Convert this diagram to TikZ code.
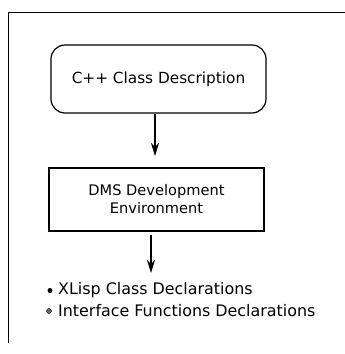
\documentclass[tikz,border=0pt]{standalone}
\usepackage{fontspec}
\setmainfont{DejaVu Sans}
\usetikzlibrary{arrows.meta}
\begin{document}
\begin{tikzpicture}[x=1pt,y=-1pt,
  frame/.style={line width=0.9pt},
  boxline/.style={draw,line width=1.2pt,minimum width=215pt},
  conn/.style={line width=1.1pt,-{Stealth[length=13pt,width=8pt,inset=4pt]}},
  lbl/.style={font=\fontsize{15.3}{18}\selectfont,inner sep=0pt},
  lbltwo/.style={font=\fontsize{14.6}{18}\selectfont,inner sep=0pt},
  item/.style={font=\fontsize{15.9}{18}\selectfont,anchor=west,inner sep=0pt}]
\useasboundingbox (0,0) rectangle (345,354);
\draw[frame] (345,12) -- (8,12) -- (8,343);
\node[boxline,rounded corners=14pt,minimum height=68pt,lbl] (a) at (158.5,79) {C++ Class Description};
\node[boxline,minimum height=63pt,align=center,lbltwo] (b) at (156.5,199.5) {DMS Development\\Environment};
\coordinate (c) at (151,273);
\draw[conn] (a.south -| 155,0) -- (155,156);
\draw[conn] (151,235) -- (c);
\node[circle,fill,inner sep=0pt,minimum size=5pt] (d1) at (50,290.5) {};
\node[circle,draw,fill=black!60,inner sep=0pt,minimum size=5pt] (d2) at (49,311) {};
\node[item] (t1) at (58,290.5) {XLisp Class Declarations};
\node[item] (t2) at (58,311) {Interface Functions Declarations};
\end{tikzpicture}
\end{document}
